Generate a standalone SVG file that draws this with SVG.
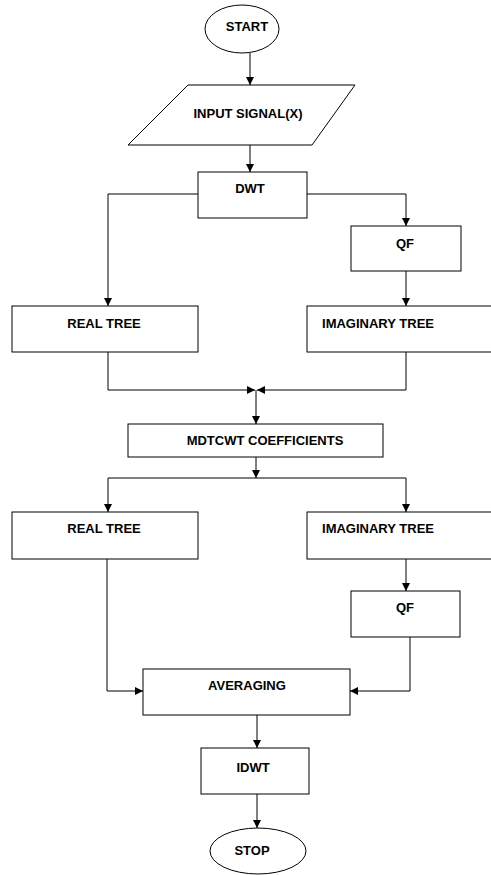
<svg xmlns="http://www.w3.org/2000/svg" width="491" height="875" viewBox="0 0 491 875">
<style>
.s{fill:#fff;stroke:#000;stroke-width:1}
.t{font-family:"Liberation Sans",Arial,sans-serif;font-weight:bold;font-size:13px;fill:#000;text-anchor:middle}
.c{fill:none;stroke:#000;stroke-width:1;marker-end:url(#ah)}
</style>
<defs>
<marker id="ah" markerUnits="userSpaceOnUse" markerWidth="8" markerHeight="8" refX="8" refY="4" orient="auto">
<path d="M0,0 L8,4 L0,8 z" fill="#000"/>
</marker>
</defs>
<rect width="491" height="875" fill="#fff"/>
<g id="connectors">
<path class="c" d="M250,53 V85"/>
<path class="c" d="M250,145 V172"/>
<path class="c" d="M198,194 H108 V306"/>
<path class="c" d="M307,194 H406 V226"/>
<path class="c" d="M406,271 V306"/>
<path class="c" d="M108,352 V390 H255"/>
<path class="c" d="M406,352 V390 H257"/>
<path class="c" d="M256,390 V424"/>
<path class="c" d="M256,457 V478"/>
<path class="c" d="M256,478 H108 V512"/>
<path class="c" d="M256,478 H406 V512"/>
<path class="c" d="M406,559 V591"/>
<path class="c" d="M107,559 V691 H143"/>
<path class="c" d="M410,637 V691 H350"/>
<path class="c" d="M257,715 V748"/>
<path class="c" d="M257,794 V828"/>
</g>
<g id="start"><ellipse class="s" cx="242" cy="29" rx="37" ry="24"/><text class="t" x="247" y="31">START</text></g>
<g id="input"><polygon class="s" points="188,85 355,85 312,145 128,145"/><text class="t" x="248" y="118">INPUT SIGNAL(X)</text></g>
<g id="dwt"><rect class="s" x="198" y="172" width="109" height="46"/><text class="t" x="250" y="193">DWT</text></g>
<g id="qf1"><rect class="s" x="351" y="226" width="110" height="45"/><text class="t" x="405" y="248">QF</text></g>
<g id="real1"><rect class="s" x="12" y="306" width="186" height="46"/><text class="t" x="104" y="328">REAL TREE</text></g>
<g id="imag1"><rect class="s" x="307" y="306" width="200" height="46"/><text class="t" x="378" y="328">IMAGINARY TREE</text></g>
<g id="mdtcwt"><rect class="s" x="128" y="424" width="255" height="33"/><text class="t" x="265" y="445">MDTCWT COEFFICIENTS</text></g>
<g id="real2"><rect class="s" x="12" y="512" width="186" height="47"/><text class="t" x="104" y="533">REAL TREE</text></g>
<g id="imag2"><rect class="s" x="307" y="512" width="200" height="47"/><text class="t" x="378" y="533">IMAGINARY TREE</text></g>
<g id="qf2"><rect class="s" x="351" y="591" width="109" height="46"/><text class="t" x="405" y="612">QF</text></g>
<g id="averaging"><rect class="s" x="143" y="669" width="207" height="46"/><text class="t" x="247" y="690">AVERAGING</text></g>
<g id="idwt"><rect class="s" x="201" y="748" width="108" height="46"/><text class="t" x="253" y="772">IDWT</text></g>
<g id="stop"><ellipse class="s" cx="258" cy="851" rx="48" ry="23"/><text class="t" x="252" y="855">STOP</text></g>
</svg>
